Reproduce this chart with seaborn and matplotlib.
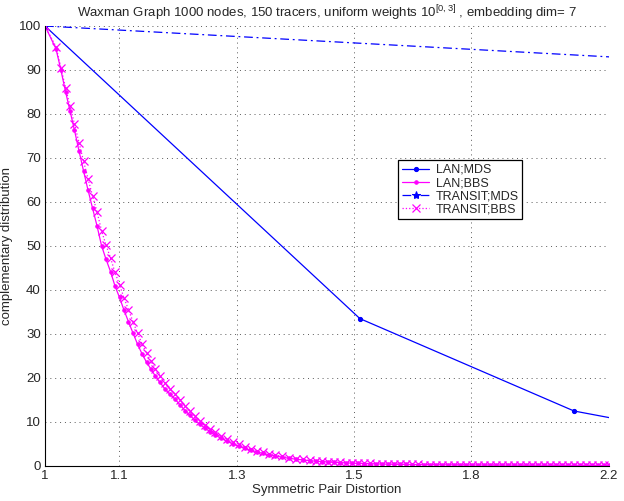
import numpy as np
import pandas as pd
import matplotlib
matplotlib.use("Agg")
import matplotlib.pyplot as plt
import seaborn as sns
from matplotlib.ticker import FixedLocator, MultipleLocator

# ---------------------------------------------------------------- data
# distortion values of the BBS curves (log spaced on the x axis)
x_bbs = [1.0, 1.0155, 1.0226, 1.0291, 1.0356, 1.0421, 1.0487, 1.0553, 1.0620, 1.0687,
         1.0754, 1.0822, 1.0890, 1.0959, 1.1028, 1.1098, 1.1168, 1.1238, 1.1309, 1.1381,
         1.1452, 1.1525, 1.1597, 1.1670, 1.1744, 1.1826, 1.1909, 1.1993, 1.2077, 1.2162,
         1.2247, 1.2333, 1.2420, 1.2507, 1.2594, 1.2683, 1.2790, 1.2897, 1.3006, 1.3116,
         1.3226, 1.3338, 1.3450, 1.3563, 1.3677, 1.3793, 1.3928, 1.4065, 1.4203, 1.4343,
         1.4484, 1.4606, 1.4729, 1.4853, 1.4978, 1.5104, 1.5231, 1.5360, 1.5489, 1.5620,
         1.5751, 1.5884, 1.6018, 1.6153, 1.6289, 1.6426, 1.6564, 1.6704, 1.6845, 1.6986,
         1.7129, 1.7274, 1.7419, 1.7566, 1.7714, 1.7863, 1.8014, 1.8165, 1.8318, 1.8473,
         1.8628, 1.8785, 1.8943, 1.9103, 1.9264, 1.9426, 1.9590, 1.9755, 1.9921, 2.0089,
         2.0258, 2.0429, 2.0601, 2.0774, 2.0949, 2.1126, 2.1303, 2.1483, 2.1664, 2.1846,
         2.2]

transit_bbs = [100, 95.3, 90.4, 86.0, 81.8, 77.7, 73.5, 69.3, 65.3, 61.4,
               57.8, 53.5, 50.2, 47.3, 44.0, 41.2, 38.2, 35.5, 32.8, 30.2,
               27.8, 25.6, 23.8, 22.1, 20.5, 18.9, 17.5, 16.3, 15.1, 13.7,
               12.5, 11.3, 10.3, 9.4, 8.5, 7.7, 6.9, 6.1, 5.5, 4.9,
               4.4, 3.9, 3.5, 3.1, 2.8, 2.5, 2.2, 1.9, 1.7, 1.5,
               1.3, 1.18, 1.08, 1.0, 0.92, 0.85, 0.78, 0.72, 0.66, 0.61,
               0.57, 0.53, 0.5, 0.47, 0.44, 0.42, 0.4, 0.38, 0.36, 0.34,
               0.33, 0.32, 0.31, 0.3, 0.29, 0.28, 0.27, 0.26, 0.26, 0.25,
               0.25, 0.24, 0.24, 0.23, 0.23, 0.22, 0.22, 0.21, 0.21, 0.2,
               0.2, 0.19, 0.19, 0.18, 0.18, 0.17, 0.17, 0.16, 0.16, 0.15,
               0.15]

lan_bbs = [100, 94.8, 89.9, 85.1, 80.7, 76.3, 71.6, 67.1, 62.7, 58.6,
           54.6, 50.1, 47.0, 44.2, 40.9, 38.3, 35.4, 32.8, 30.2, 27.7,
           25.5, 23.6, 22.0, 20.4, 19.0, 17.5, 16.3, 15.2, 13.9, 12.6,
           11.5, 10.4, 9.45, 8.6, 7.8, 7.05, 6.3, 5.6, 5.05, 4.5,
           4.0, 3.6, 3.2, 2.85, 2.55, 2.3, 2.0, 1.75, 1.55, 1.37,
           1.2, 1.09, 0.99, 0.91, 0.84, 0.77, 0.71, 0.65, 0.6, 0.55,
           0.51, 0.48, 0.45, 0.42, 0.4, 0.38, 0.36, 0.34, 0.32, 0.31,
           0.3, 0.29, 0.28, 0.27, 0.26, 0.25, 0.25, 0.24, 0.24, 0.23,
           0.23, 0.22, 0.22, 0.21, 0.21, 0.2, 0.2, 0.19, 0.19, 0.18,
           0.18, 0.17, 0.17, 0.16, 0.16, 0.15, 0.15, 0.14, 0.14, 0.13,
           0.13]

x_lan_mds = [1.0, 1.553, 2.095, 2.6]
lan_mds = [100, 33.5, 12.5, 5.9]

x_transit_mds = [1.0, 2.6]
transit_mds = [100, 91.5]

xtick_pos = [1.0, 1.109, 1.308, 1.540, 1.814, 2.2]
xtick_labels = ["1", "1.1", "1.3", "1.5", "1.8", "2.2"]

# ---------------------------------------------------------------- style
sns.set_style("white")
plt.rcParams["font.family"] = ["Liberation Sans", "DejaVu Sans"]
plt.rcParams["mathtext.default"] = "regular"
plt.rcParams["xtick.direction"] = "in"
plt.rcParams["ytick.direction"] = "in"

fig, ax = plt.subplots(figsize=(6.24, 5.01), dpi=100)
fig.subplots_adjust(left=45 / 624, right=609 / 624, bottom=35 / 501, top=475 / 501)

blue = "#0000ff"
magenta = "#ff00ff"
fs = 9.5

sns.lineplot(x=x_lan_mds, y=lan_mds, ax=ax, color=blue, lw=0.9, marker=".",
             markersize=6, markeredgecolor=blue, estimator=None, sort=False, label="LAN;MDS")
sns.lineplot(x=x_bbs, y=lan_bbs, ax=ax, color=magenta, lw=0.9, marker=".",
             markersize=5, markeredgecolor=magenta, estimator=None, sort=False, label="LAN;BBS")
sns.lineplot(x=x_transit_mds, y=transit_mds, ax=ax, color=blue, lw=0.9, marker="*",
             markersize=6, markeredgecolor=blue, linestyle=(0, (7, 3, 1.5, 3)),
             estimator=None, sort=False, label="TRANSIT;MDS")
sns.lineplot(x=x_bbs, y=transit_bbs, ax=ax, color=magenta, lw=0.9, marker="x",
             markersize=5.5, markeredgewidth=0.9, markeredgecolor=magenta, linestyle=":",
             estimator=None, sort=False, label="TRANSIT;BBS")

ax.set_xscale("log")
ax.set_xlim(1, 2.2)
ax.set_ylim(0, 100)
ax.xaxis.set_major_locator(FixedLocator(xtick_pos))
ax.set_xticklabels(xtick_labels)
ax.xaxis.set_minor_locator(FixedLocator(list(np.arange(1.01, 2.2, 0.02))))
ax.xaxis.set_minor_formatter(plt.NullFormatter())
ax.yaxis.set_major_locator(MultipleLocator(10))
ax.yaxis.set_minor_locator(MultipleLocator(2))

ax.tick_params(axis="both", which="major", labelsize=fs, length=4, width=0.7, pad=3)
ax.tick_params(axis="both", which="minor", length=2, width=0.5)

ax.grid(True, which="major", linestyle=(0, (1, 4)), color="0.35", linewidth=0.7)

for side in ["top", "right"]:
    ax.spines[side].set_visible(False)
for side in ["left", "bottom"]:
    ax.spines[side].set_color("black")
    ax.spines[side].set_linewidth(0.8)

ax.set_title("Waxman Graph 1000 nodes, 150 tracers, uniform weights 10$^{[0,3]}$ , embedding dim= 7",
             fontsize=fs, pad=6)
ax.set_xlabel("Symmetric Pair Distortion", fontsize=fs, labelpad=1)
ax.set_ylabel("complementary distribution", fontsize=fs, labelpad=4)

leg = ax.legend(loc="upper left", bbox_to_anchor=(0.626, 0.695), fontsize=9,
                frameon=True, fancybox=False, edgecolor="black", framealpha=1,
                borderpad=0.3, labelspacing=0.1, handlelength=2.2, handletextpad=0.5,
                borderaxespad=0)
leg.get_frame().set_linewidth(0.9)

fig.savefig("out.png", dpi=100)
